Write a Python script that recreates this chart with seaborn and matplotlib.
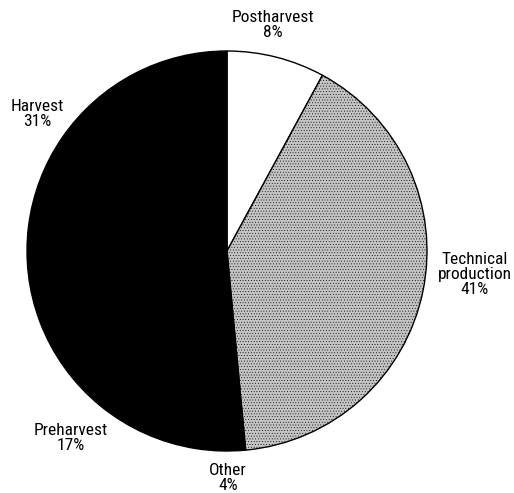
import matplotlib
matplotlib.use("Agg")
import matplotlib.pyplot as plt
import seaborn as sns
from matplotlib import font_manager

categories = ["Postharvest", "Technical\nproduction", "Other", "Preharvest", "Harvest"]
values = [8, 41, 4, 17, 31]
colors = ["#ffffff", "#c4c4c4", "#000000", "#000000", "#000000"]

sns.set_theme(style="white")
names = {f.name for f in font_manager.fontManager.ttflist}
fam = [f for f in ["Liberation Sans Narrow", "Roboto Condensed", "Open Sans", "DejaVu Sans"] if f in names]
plt.rcParams["font.family"] = fam
plt.rcParams["hatch.color"] = "#6a6a6a"
plt.rcParams["hatch.linewidth"] = 0.3

fig = plt.figure(figsize=(5.14, 4.93), dpi=100)
ax = fig.add_axes([0, 0, 1, 1])
cx, cy, r = 227, 251, 200

def px(x, y):
    return (x - cx) / r, (cy - y) / r

wedges, _ = ax.pie(values, colors=colors, startangle=90, counterclock=False,
                   radius=1.0, center=(0, 0),
                   wedgeprops=dict(edgecolor="black", linewidth=1.0))
wedges[1].set_hatch("......")

label_pos = [(273, 25), (475, 274), (228, 478), (71, 438), (37, 114)]
for name, v, (x, y) in zip(categories, values, label_pos):
    tx, ty = px(x, y)
    ax.text(tx, ty, f"{name}\n{v}%", ha="center", va="center", fontsize=12.5,
            linespacing=1.0, color="black")

ax.set_xlim(-cx / r, (514 - cx) / r)
ax.set_ylim((cy - 493) / r, cy / r)
ax.set_aspect("equal")
ax.axis("off")
fig.savefig("out.png", dpi=100, facecolor="white")
